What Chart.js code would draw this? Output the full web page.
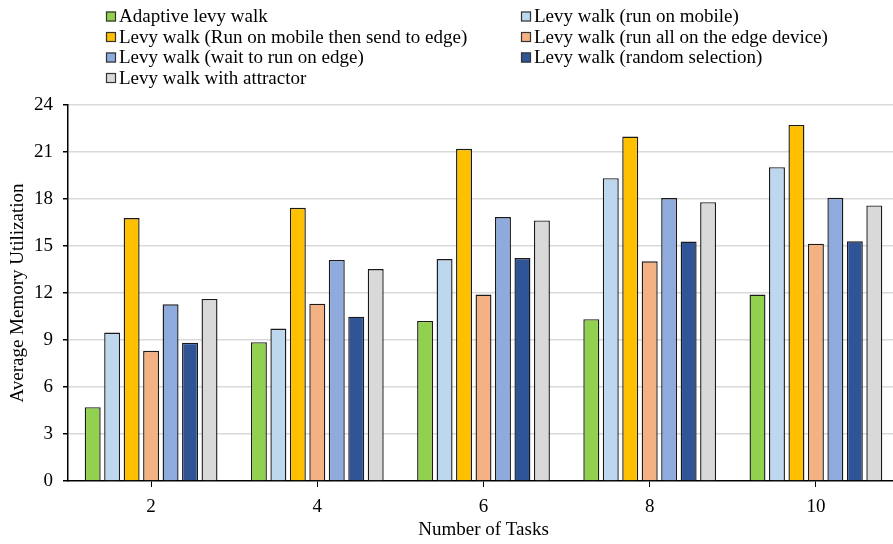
<!DOCTYPE html>
<html>
<head>
<meta charset="utf-8">
<script src="https://cdn.jsdelivr.net/npm/chart.js@4/dist/chart.umd.min.js"></script>
<style>
  html, body { margin: 0; padding: 0; background: #fff; overflow: hidden; }
  #wrap { position: absolute; left: 0; top: 0; width: 900px; height: 544px; }
</style>
</head>
<body>
<div id="wrap"><canvas id="c" width="900" height="544"></canvas></div>
<script>
// Number of tasks on the x axis
const categories = ['2', '4', '6', '8', '10'];

// Average memory utilization per method
const adaptiveLevy   = [4.71, 8.86, 10.22, 10.33, 11.9];
const runOnMobile    = [9.48, 9.73, 14.17, 19.33, 20.03];
const mobileThenEdge = [16.78, 17.44, 21.2, 21.99, 22.73];
const allOnEdge      = [8.31, 11.32, 11.9, 14.02, 15.15];
const waitOnEdge     = [11.28, 14.11, 16.85, 18.06, 18.08];
const randomSel      = [8.82, 10.49, 14.23, 15.28, 15.3];
const withAttractor  = [11.62, 13.53, 16.63, 17.8, 17.59];

// Y axis ticks
const yTicks = [0, 3, 6, 9, 12, 15, 18, 21, 24];

const FONT = '"Liberation Serif", "Times New Roman", serif';
const FSIZE = 19;

const series = [
  { label: 'Adaptive levy walk', data: adaptiveLevy, color: '#92D050' },
  { label: 'Levy walk (run on mobile)', data: runOnMobile, color: '#BDD7EE' },
  { label: 'Levy walk (Run on mobile then send to edge)', data: mobileThenEdge, color: '#FFC000' },
  { label: 'Levy walk (run all on the edge device)', data: allOnEdge, color: '#F4B183' },
  { label: 'Levy walk (wait to run on edge)', data: waitOnEdge, color: '#8FAADC' },
  { label: 'Levy walk (random selection)', data: randomSel, color: '#2F5597' },
  { label: 'Levy walk with attractor', data: withAttractor, color: '#D9D9D9' }
];

// Two-column legend drawn above the plot
const legendPlugin = {
  id: 'twoColLegend',
  afterDraw(chart) {
    const ctx = chart.ctx;
    const cols = [106, 521];
    const rows = [16.5, 37, 57.5, 78];
    ctx.save();
    ctx.font = FSIZE + 'px ' + FONT;
    ctx.textBaseline = 'middle';
    ctx.textAlign = 'left';
    chart.data.datasets.forEach((ds, i) => {
      const x = cols[i % 2];
      const y = rows[Math.floor(i / 2)];
      ctx.fillStyle = ds.backgroundColor;
      ctx.fillRect(x, y - 5, 10, 10);
      ctx.strokeStyle = '#333';
      ctx.lineWidth = 1.2;
      ctx.strokeRect(x + 0.5, y - 4.5, 9, 9);
      ctx.fillStyle = '#000';
      ctx.fillText(ds.label, x + 13, y + 1);
    });
    ctx.restore();
  }
};

new Chart(document.getElementById('c'), {
  type: 'bar',
  data: {
    labels: categories,
    datasets: series.map(s => ({
      label: s.label,
      data: s.data,
      backgroundColor: s.color,
      borderColor: '#1a1a1a',
      borderWidth: 1.4,
      barPercentage: 0.82,
      categoryPercentage: 0.82
    }))
  },
  options: {
    responsive: false,
    animation: false,
    layout: { padding: { top: 105, right: 1, bottom: 0, left: 0 } },
    plugins: {
      legend: { display: false },
      tooltip: { enabled: false }
    },
    scales: {
      x: {
        grid: {
          display: true,
          drawOnChartArea: false,
          drawTicks: true,
          tickLength: 6,
          tickColor: '#000',
          offset: false
        },
        border: { display: true, color: '#000', width: 1.5 },
        ticks: { color: '#000', font: { family: FONT, size: FSIZE }, padding: 9 },
        title: {
          display: true,
          text: 'Number of Tasks',
          color: '#000',
          font: { family: FONT, size: FSIZE },
          padding: { top: 0, bottom: 3 }
        },
        afterFit(scale) { scale.height = 63; }
      },
      y: {
        min: 0,
        max: 24,
        afterBuildTicks(scale) { scale.ticks = yTicks.map(v => ({ value: v })); },
        grid: {
          color: (c) => c.tick && c.tick.value === 0 ? 'rgba(0,0,0,0)' : '#d9d9d9',
          lineWidth: 1.5,
          drawTicks: true,
          tickLength: 5,
          tickColor: '#000'
        },
        border: { display: true, color: '#000', width: 1.5 },
        ticks: { color: '#000', font: { family: FONT, size: FSIZE }, padding: 10 },
        title: {
          display: true,
          text: 'Average Memory Utilization',
          color: '#000',
          font: { family: FONT, size: FSIZE },
          padding: { top: 7, bottom: 0 }
        },
        afterFit(scale) { scale.width = 68; }
      }
    }
  },
  plugins: [legendPlugin]
});
</script>
</body>
</html>
